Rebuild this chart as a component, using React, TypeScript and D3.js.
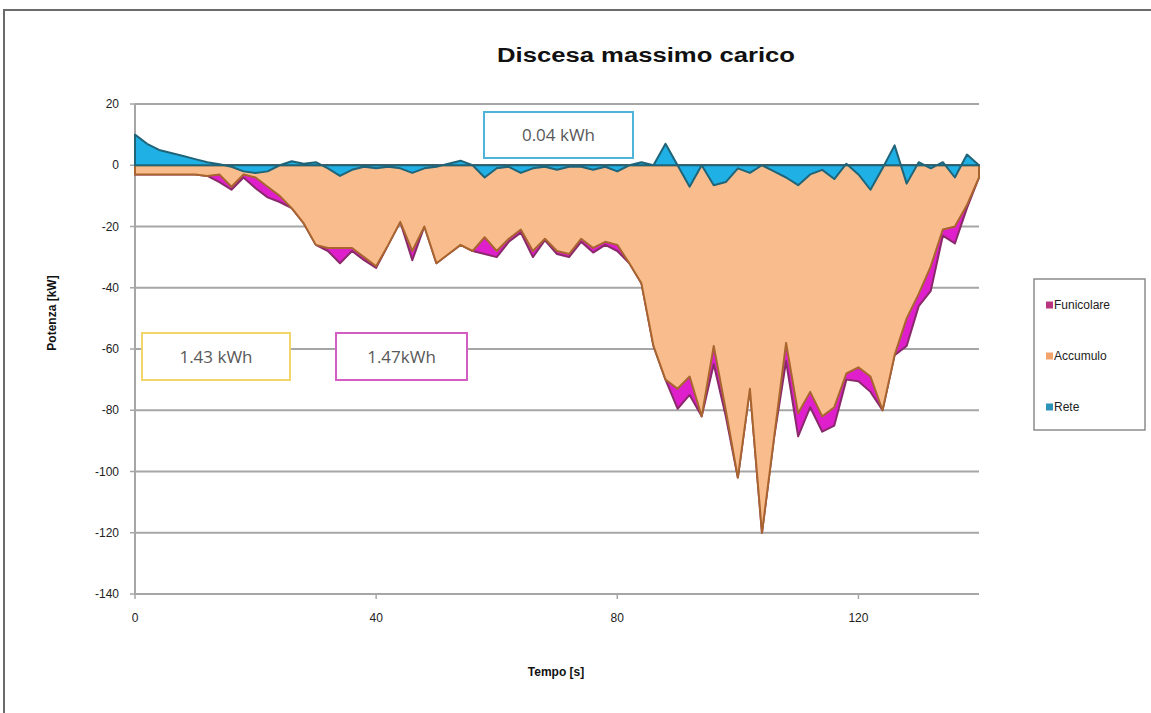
import React, { useEffect } from 'react';
import * as d3 from 'd3';

// Tempo [s]
const tempo = [
  0, 2, 4, 6, 8, 10, 12, 14, 16, 18, 20, 22, 24, 26, 28, 30, 32, 34, 36, 38,
  40, 42, 44, 46, 48, 50, 52, 54, 56, 58, 60, 62, 64, 66, 68, 70, 72, 74, 76, 78,
  80, 82, 84, 86, 88, 90, 92, 94, 96, 98, 100, 102, 104, 106, 108, 110, 112, 114, 116, 118,
  120, 122, 124, 126, 128, 130, 132, 134, 136, 138, 140,
];

// Potenza [kW]
const funicolare = [
  -3, -3, -3, -3, -3, -3, -3.5, -5.5, -8, -4, -7.5, -10.5, -12, -14, -19, -26, -28, -32, -28, -31,
  -33.5, -26, -18.5, -31, -20, -32, -29, -26, -28, -29, -30, -25, -22, -30, -24.5, -29, -30, -25, -28.5, -26,
  -28, -32, -38.5, -59, -70, -79.5, -75, -82, -65, -82, -102, -73, -120, -89, -64, -88.5, -79, -87, -85, -70,
  -70.5, -74, -80, -62, -59, -46, -41, -23, -25.5, -14, -4,
];

const accumulo = [
  -3, -3, -3, -3, -3, -3, -3.5, -3, -7, -3, -4, -7, -10, -14, -19, -26, -27, -27, -27, -30,
  -33, -26, -18.5, -28, -20, -32, -29, -26, -28, -23.5, -28, -24, -21, -28, -24, -28, -29, -24, -27, -25,
  -26, -32, -38.5, -59, -70, -73, -69, -82, -59, -80, -102, -73, -120, -89, -58, -81, -74, -82, -79, -68,
  -66, -69, -80, -62, -50, -42, -33, -21, -20, -13, -4,
];

const rete = [
  10, 7, 5, 4, 3, 2, 1, 0.3, -0.5, -2, -2.5, -2, 0, 1.3, 0.5, 1, -1, -3.5, -1.5, -0.5,
  -1, -0.5, -1, -2.5, -1, -0.5, 0.5, 1.5, 0, -4, -1, -0.5, -2.5, -1, -0.5, -1.5, -0.5, -0.5, -1.5, -0.5,
  -2, 0, 1, 0, 7, 0, -7, 0, -6.5, -5.5, -1, -2.5, 0, -2, -4, -6.5, -3, -1.5, -4.5, 0.5,
  -3, -8, -1, 6.5, -6, 1, -1, 1, -4, 3.5, 0,
];

const xTicks = [0, 40, 80, 120];
const yTicks = [20, 0, -20, -40, -60, -80, -100, -120, -140];

const series = [
  { name: 'Funicolare', values: funicolare, fill: '#e01fcc', stroke: '#8a2a6a' },
  { name: 'Accumulo', values: accumulo, fill: '#f9bd8d', stroke: '#a8652e' },
  { name: 'Rete', values: rete, fill: '#1fb0e6', stroke: '#1f6478' },
];

const legendSwatch = ['#b8367e', '#f2a46c', '#2e93b8'];

const annotations = [
  { text: '0.04 kWh', x: 484, y: 112, w: 149, h: 46, color: '#4fb4d8' },
  { text: '1.43 kWh', x: 142, y: 333, w: 148, h: 47, color: '#f2d66a' },
  { text: '1.47kWh', x: 336, y: 333, w: 131, h: 47, color: '#d25ec4' },
];

export default function App() {
  useEffect(() => {
    document.body.style.margin = '0';
  }, []);

  const width = 1151;
  const height = 713;
  const x = d3.scaleLinear().domain([0, 140]).range([135, 979]);
  const y = d3.scaleLinear().domain([-140, 20]).range([594, 104]);

  const area = (vals: number[]) =>
    d3
      .area<number>()
      .x((_, i) => x(tempo[i]))
      .y0(y(0))
      .y1((d) => y(d))(vals) || '';

  const font = 'Arial, "Liberation Sans", sans-serif';

  return (
    <svg width={width} height={height} style={{ display: 'block', background: '#fff' }} fontFamily={font}>
      {/* outer frame */}
      <rect x={4} y={10} width={1200} height={800} fill="#fff" stroke="#6b6b6b" strokeWidth={2} />

      <text x={646} y={62} textAnchor="middle" fontSize={20} fontWeight="bold" fill="#111"
        textLength={298} lengthAdjust="spacingAndGlyphs">
        Discesa massimo carico
      </text>

      {/* gridlines */}
      {yTicks.map((t) => (
        <g key={t}>
          <line x1={x(0)} x2={x(140)} y1={y(t)} y2={y(t)} stroke="#a6a6a6" strokeWidth={2} />
          <line x1={x(0) - 5} x2={x(0)} y1={y(t)} y2={y(t)} stroke="#a6a6a6" strokeWidth={1.5} />
          <text x={119} y={y(t) + 4} textAnchor="end" fontSize={12} fill="#222">{t}</text>
        </g>
      ))}
      <line x1={x(0)} x2={x(0)} y1={y(20)} y2={y(-140)} stroke="#a6a6a6" strokeWidth={2} />
      {xTicks.map((t) => (
        <g key={t}>
          <line x1={x(t)} x2={x(t)} y1={y(-140)} y2={y(-140) + 5} stroke="#a6a6a6" strokeWidth={1.5} />
          <text x={x(t)} y={622} textAnchor="middle" fontSize={12} fill="#222">{t}</text>
        </g>
      ))}

      {/* areas */}
      {series.map((s) => (
        <path key={s.name} d={area(s.values)} fill={s.fill} stroke={s.stroke} strokeWidth={2}
          strokeLinejoin="round" />
      ))}

      {/* annotations */}
      {annotations.map((a) => (
        <g key={a.text}>
          <rect x={a.x} y={a.y} width={a.w} height={a.h} fill="#fff" stroke={a.color} strokeWidth={2} />
          <text x={a.x + a.w / 2} y={a.y + a.h / 2 + 6} textAnchor="middle" fontSize={17} fill="#595959"
            fontFamily='"Open Sans", "Liberation Sans", sans-serif'>
            {a.text}
          </text>
        </g>
      ))}

      {/* axis titles */}
      <text transform="translate(56,313) rotate(-90)" textAnchor="middle" fontSize={12} fontWeight="bold" fill="#111">
        Potenza [kW]
      </text>
      <text x={556} y={676} textAnchor="middle" fontSize={12} fontWeight="bold" fill="#111">
        Tempo [s]
      </text>

      {/* legend */}
      <rect x={1034} y={279} width={111} height={151} fill="#fff" stroke="#8c8c8c" strokeWidth={1.5} />
      {series.map((s, i) => (
        <g key={s.name} transform={`translate(1046,${305 + [0, 51, 102][i]})`}>
          <rect x={0} y={-3.5} width={7} height={7} fill={legendSwatch[i]} />
          <text x={8} y={4} fontSize={12} fill="#222">{s.name}</text>
        </g>
      ))}
    </svg>
  );
}
